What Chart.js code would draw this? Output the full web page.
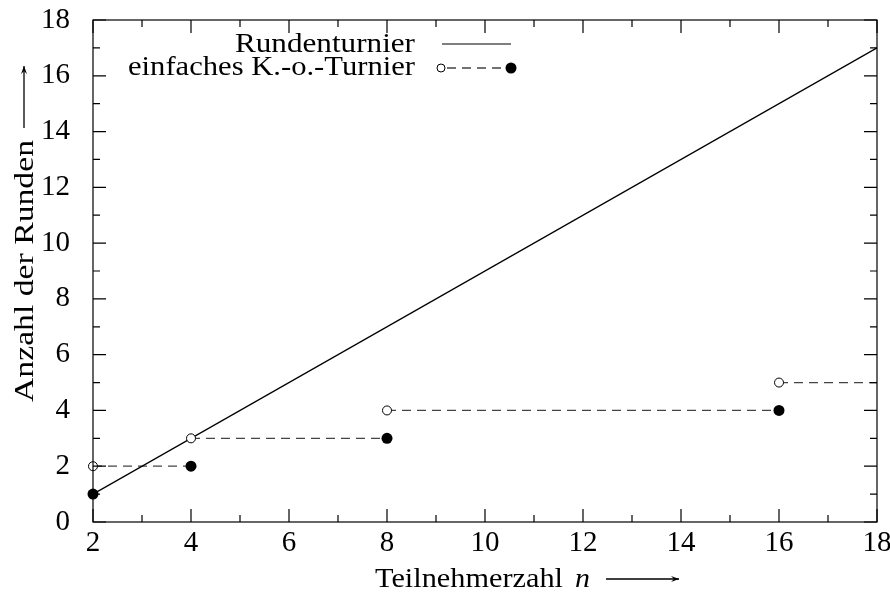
<!DOCTYPE html>
<html>
<head>
<meta charset="utf-8">
<script src="https://cdn.jsdelivr.net/npm/chart.js@4/dist/chart.umd.min.js"></script>
<style>
  html, body { margin: 0; padding: 0; background: #fff; }
  #wrap { width: 890px; height: 594px; }
</style>
</head>
<body>
<div id="wrap"><canvas id="chart" width="890" height="594"></canvas></div>
<script>
// round robin: n-1 rounds
const roundRobinN = [2, 18];
const roundRobinRounds = [1, 17];

// knockout: dashed steps, open circle at start, filled at end
const stepStartN = [2, 4, 8, 16];
const stepEndN = [4, 8, 16, 18];
const stepRounds = [2, 3, 4, 5];
const filledN = [2, 4, 8, 16];
const filledRounds = [1, 2, 3, 4];

const xTicks = [2, 4, 6, 8, 10, 12, 14, 16, 18];
const yTicks = [0, 2, 4, 6, 8, 10, 12, 14, 16, 18];

const FONT = '"Liberation Serif", "DejaVu Serif", serif';
const dashColor = '#444';

let datasets = [];
datasets.push({
  label: 'Rundenturnier',
  data: roundRobinN.map((n, i) => ({x: n, y: roundRobinRounds[i]})),
  borderColor: '#000', borderWidth: 1.2, pointRadius: 0, order: 1, clip: false
});
for (let i = 0; i < stepStartN.length; i++) {
  datasets.push({
    label: 'step' + i,
    data: [{x: stepStartN[i], y: stepRounds[i]}, {x: stepEndN[i], y: stepRounds[i]}],
    borderColor: dashColor, borderWidth: 1.3, borderDash: [9, 6],
    pointRadius: 0, order: 2, clip: false
  });
}
datasets.push({
  label: 'open',
  data: stepStartN.map((n, i) => ({x: n, y: stepRounds[i]})),
  showLine: false, pointRadius: 4.5, pointBackgroundColor: '#fff',
  pointBorderColor: '#000', pointBorderWidth: 1, order: 0, clip: false
});
datasets.push({
  label: 'filled',
  data: filledN.map((n, i) => ({x: n, y: filledRounds[i]})),
  showLine: false, pointRadius: 5.5, pointBackgroundColor: '#000',
  pointBorderColor: '#000', pointBorderWidth: 0, order: 0, clip: false
});

function arrow(ctx, x1, y1, x2, y2) {
  ctx.beginPath(); ctx.moveTo(x1, y1); ctx.lineTo(x2, y2); ctx.stroke();
  const a = Math.atan2(y2 - y1, x2 - x1);
  ctx.beginPath();
  ctx.moveTo(x2, y2);
  ctx.lineTo(x2 - 8 * Math.cos(a) + 3 * Math.sin(a), y2 - 8 * Math.sin(a) - 3 * Math.cos(a));
  ctx.lineTo(x2 - 5 * Math.cos(a), y2 - 5 * Math.sin(a));
  ctx.lineTo(x2 - 8 * Math.cos(a) - 3 * Math.sin(a), y2 - 8 * Math.sin(a) + 3 * Math.cos(a));
  ctx.closePath(); ctx.fill();
}

// draw text stretched to a given width (left edge at x)
function fitText(ctx, text, x, y, width) {
  const w = ctx.measureText(text).width;
  ctx.save();
  ctx.translate(x, y);
  ctx.scale(width / w, 1);
  ctx.textAlign = 'left';
  ctx.fillText(text, 0, 0);
  ctx.restore();
}

const decor = {
  id: 'decor',
  afterDraw(chart) {
    const ctx = chart.ctx;
    const xs = chart.scales.x, ys = chart.scales.y;
    const left = xs.getPixelForValue(xs.min), right = xs.getPixelForValue(xs.max);
    const top = ys.getPixelForValue(ys.max), bottom = ys.getPixelForValue(ys.min);
    ctx.save();
    ctx.strokeStyle = '#000'; ctx.fillStyle = '#000'; ctx.lineWidth = 1.2;
    ctx.strokeRect(left, top, right - left, bottom - top);
    // inward ticks
    ctx.beginPath();
    for (let v = 2; v <= 18; v++) {
      const px = xs.getPixelForValue(v), len = v % 2 === 0 ? 13 : 7;
      ctx.moveTo(px, bottom); ctx.lineTo(px, bottom - len);
      ctx.moveTo(px, top); ctx.lineTo(px, top + len);
    }
    for (let v = 0; v <= 18; v++) {
      const py = ys.getPixelForValue(v), len = v % 2 === 0 ? 13 : 7;
      ctx.moveTo(left, py); ctx.lineTo(left + len, py);
      ctx.moveTo(right, py); ctx.lineTo(right - len, py);
    }
    ctx.stroke();

    // legend
    ctx.font = '27px ' + FONT;
    ctx.textBaseline = 'alphabetic';
    fitText(ctx, 'Rundenturnier', 235, 52, 180);
    fitText(ctx, 'einfaches K.-o.-Turnier', 128, 75, 287);
    ctx.beginPath(); ctx.moveTo(442, 44); ctx.lineTo(511, 44); ctx.stroke();
    ctx.strokeStyle = dashColor; ctx.lineWidth = 1.3; ctx.setLineDash([9, 6]);
    ctx.beginPath(); ctx.moveTo(447, 68); ctx.lineTo(507, 68); ctx.stroke();
    ctx.setLineDash([]); ctx.strokeStyle = '#000'; ctx.lineWidth = 1;
    ctx.fillStyle = '#fff';
    ctx.beginPath(); ctx.arc(441, 68, 4, 0, Math.PI * 2); ctx.fill(); ctx.stroke();
    ctx.fillStyle = '#000';
    ctx.beginPath(); ctx.arc(511, 68, 5.5, 0, Math.PI * 2); ctx.fill();

    // x title
    ctx.font = '27px ' + FONT;
    fitText(ctx, 'Teilnehmerzahl', 375, 587, 188);
    ctx.font = 'italic 27px ' + FONT;
    fitText(ctx, 'n', 575, 587, 15);
    ctx.lineWidth = 1.3;
    arrow(ctx, 606, 579, 679, 579);

    // y title
    ctx.translate(33, 402); ctx.rotate(-Math.PI / 2);
    ctx.font = '27px ' + FONT;
    fitText(ctx, 'Anzahl der Runden', 0, 0, 262);
    arrow(ctx, 274, -9, 336, -9);
    ctx.restore();
  }
};

new Chart(document.getElementById('chart'), {
  type: 'line',
  data: { datasets: datasets },
  options: {
    responsive: false, animation: false,
    layout: { padding: { top: 20, right: 13, left: 0, bottom: 0 } },
    plugins: { legend: { display: false }, tooltip: { enabled: false } },
    scales: {
      x: {
        type: 'linear', min: 2, max: 18,
        afterFit(s) { s.height = 72; s.paddingLeft = 0; s.paddingRight = 13; },
        afterBuildTicks(s) { s.ticks = xTicks.map(v => ({value: v})); },
        grid: { display: false, drawTicks: false }, border: { display: false },
        ticks: { color: '#000', padding: 4, maxRotation: 0, font: { family: FONT, size: 29 } }
      },
      y: {
        type: 'linear', min: 0, max: 18,
        afterFit(s) { s.width = 93; s.paddingTop = 0; s.paddingBottom = 0; },
        afterBuildTicks(s) { s.ticks = yTicks.map(v => ({value: v})); },
        grid: { display: false, drawTicks: false }, border: { display: false },
        ticks: { color: '#000', padding: 23, font: { family: FONT, size: 29 } }
      }
    }
  },
  plugins: [decor]
});
</script>
</body>
</html>
